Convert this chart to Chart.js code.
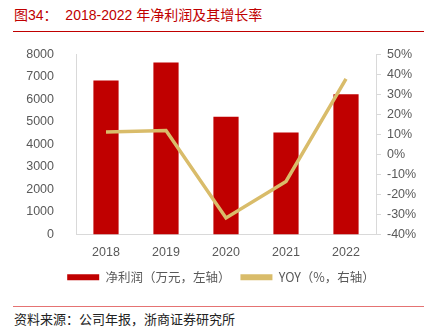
<!DOCTYPE html>
<html><head><meta charset="utf-8">
<script src="https://cdn.jsdelivr.net/npm/chart.js@4/dist/chart.umd.min.js"></script>
<style>
html,body{margin:0;padding:0;background:#fff;width:442px;height:335px;overflow:hidden;position:relative;font-family:"Liberation Sans","Noto Sans CJK SC",sans-serif;}
#title{position:absolute;left:14px;top:6px;font-size:14px;line-height:18px;color:#C00000;white-space:pre;}
#line1{position:absolute;left:13px;top:31px;width:411px;height:1px;background:#C00000;}
#line2{position:absolute;left:13px;top:306px;width:411px;height:1px;background:#E57373;}
#src{position:absolute;left:14px;top:310px;font-size:13px;line-height:17px;color:#222;font-family:"Noto Sans CJK SC",sans-serif;}
#wrap{position:absolute;left:0;top:32.5px;width:442px;height:260.5px;}
</style></head>
<body>
<div id="title">图34：  2018-2022 年净利润及其增长率</div>
<div id="line1"></div>
<div id="wrap"><canvas id="c"></canvas></div>
<div id="line2"></div>
<div id="src">资料来源：公司年报，浙商证券研究所</div>
<script>
const categories = ["2018","2019","2020","2021","2022"];
const netProfit = [6850, 7650, 5230, 4530, 6230];
const yoy = [11.3, 12.0, -31.7, -13.5, 37.8];
const seriesNames = ["净利润（万元，左轴）", "YOY（%，右轴）"];

const RED = "#C00000", GOLD = "#D9BC6A", GRAY = "#595959", AXIS = "#D9D9D9";
const tickFont = {family:"Liberation Sans", size:12.5};

new Chart(document.getElementById("c"), {
  data: {
    labels: categories,
    datasets: [
      {type:"line", label: seriesNames[1], data: yoy, yAxisID:"y1", borderColor: GOLD, backgroundColor: GOLD,
       borderWidth: 3.5, pointRadius: 0, tension: 0, order: 0},
      {type:"bar", label: seriesNames[0], data: netProfit, yAxisID:"y", backgroundColor: RED,
       categoryPercentage: 1, barPercentage: 0.42, order: 1}
    ]
  },
  options: {
    responsive: true, maintainAspectRatio: false, animation: false,
    layout: {padding: {top: 6, bottom: 0, left: 0, right: 0}},
    plugins: {
      tooltip: {enabled: false},
      legend: {
        position: "bottom",
        labels: {
          boxWidth: 32, boxHeight: 6, padding: 10, color: GRAY,
          font: {family: "Noto Sans CJK SC", size: 12.5},
          generateLabels: (chart) => [
            {text: seriesNames[0], fillStyle: RED, strokeStyle: RED, lineWidth: 0, datasetIndex: 1, fontColor: GRAY},
            {text: seriesNames[1], fillStyle: GOLD, strokeStyle: GOLD, lineWidth: 0, datasetIndex: 0, fontColor: GRAY}
          ]
        }
      }
    },
    scales: {
      x: {
        offset: true,
        grid: {display: false},
        border: {display: true, color: AXIS},
        ticks: {color: GRAY, font: tickFont, padding: 3},
        afterFit: (s) => { s.height = 26.5; }
      },
      y: {
        position: "left", min: 0, max: 8000,
        grid: {display: false},
        border: {display: true, color: AXIS},
        ticks: {stepSize: 1000, color: GRAY, font: tickFont, padding: 14, callback: (v) => String(v)},
        afterFit: (s) => { s.width = 76; }
      },
      y1: {
        position: "right", min: -40, max: 50,
        grid: {display: true, drawOnChartArea: false, drawTicks: true, tickLength: 5, color: AXIS},
        border: {display: true, color: AXIS},
        ticks: {stepSize: 10, color: GRAY, font: tickFont, padding: 6, callback: (v) => v + "%"},
        afterFit: (s) => { s.width = 66; }
      }
    }
  }
});
</script>
</body></html>
